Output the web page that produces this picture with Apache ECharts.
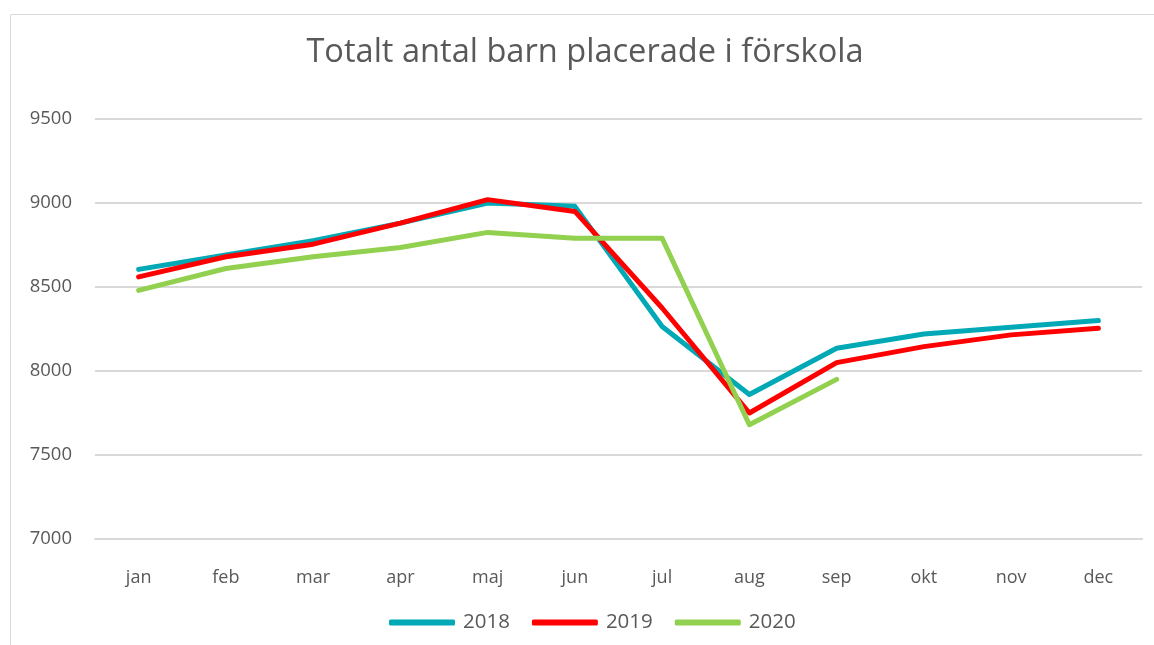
<!DOCTYPE html>
<html>
<head>
<meta charset="utf-8">
<script src="https://cdn.jsdelivr.net/npm/echarts@6/dist/echarts.min.js"></script>
<style>
  html, body { margin: 0; padding: 0; background: #fff; }
  #chart { width: 1154px; height: 645px; }
</style>
</head>
<body>
<div id="chart"></div>
<script>
var months = ["jan", "feb", "mar", "apr", "maj", "jun", "jul", "aug", "sep", "okt", "nov", "dec"];
var data2018 = [8605, 8690, 8775, 8880, 9000, 8980, 8265, 7860, 8135, 8220, 8260, 8300];
var data2019 = [8560, 8680, 8755, 8880, 9020, 8950, 8375, 7750, 8050, 8145, 8215, 8255];
var data2020 = [8480, 8610, 8680, 8735, 8825, 8790, 8790, 7680, 7950];

var textColor = "#595959";
var font = "'Open Sans', 'Noto Sans', sans-serif";

function lineSeries(name, data, color) {
  return {
    name: name,
    type: "line",
    data: data,
    symbol: "none",
    itemStyle: { color: color },
    lineStyle: { color: color, width: 5, cap: "round", join: "round" },
    animation: false,
  };
}

var chart = echarts.init(document.getElementById("chart"));
chart.setOption({
  backgroundColor: "#fff",
  textStyle: { fontFamily: font },
  graphic: [
    {
      type: "rect",
      shape: { x: 10.5, y: 14.5, width: 1200, height: 700 },
      style: { fill: "none", stroke: "#d9d9d9", lineWidth: 1 },
      silent: true,
    },
  ],
  title: {
    text: "Totalt antal barn placerade i förskola",
    left: 580,
    textAlign: "center",
    top: 31,
    textStyle: { color: textColor, fontSize: 32.6, fontWeight: "normal", fontFamily: font },
  },
  grid: { left: 95, right: 12, top: 119, bottom: 106, containLabel: false },
  xAxis: {
    type: "category",
    data: months,
    boundaryGap: true,
    axisLine: { show: true, lineStyle: { color: "#d9d9d9", width: 2 } },
    axisTick: { show: false },
    axisLabel: { color: textColor, fontSize: 18, margin: 30, fontFamily: font },
  },
  yAxis: {
    type: "value",
    min: 7000,
    max: 9500,
    interval: 500,
    axisLine: { show: false },
    axisTick: { show: false },
    axisLabel: {
      color: textColor,
      fontSize: 18.5,
      margin: 23,
      fontFamily: font,
      formatter: function (v) { return String(v); },
    },
    splitLine: { lineStyle: { color: "#d9d9d9", width: 2 } },
  },
  legend: {
    bottom: 7,
    left: 384,
    itemWidth: 66,
    itemHeight: 6,
    itemGap: 22,
    icon: "roundRect",
    textStyle: { color: textColor, fontSize: 20.5, fontFamily: font, padding: [0, 0, 0, 3] },
    data: ["2018", "2019", "2020"],
  },
  series: [
    lineSeries("2018", data2018, "#00a9b5"),
    lineSeries("2019", data2019, "#ff0000"),
    lineSeries("2020", data2020, "#92d050"),
  ],
});
</script>
</body>
</html>
